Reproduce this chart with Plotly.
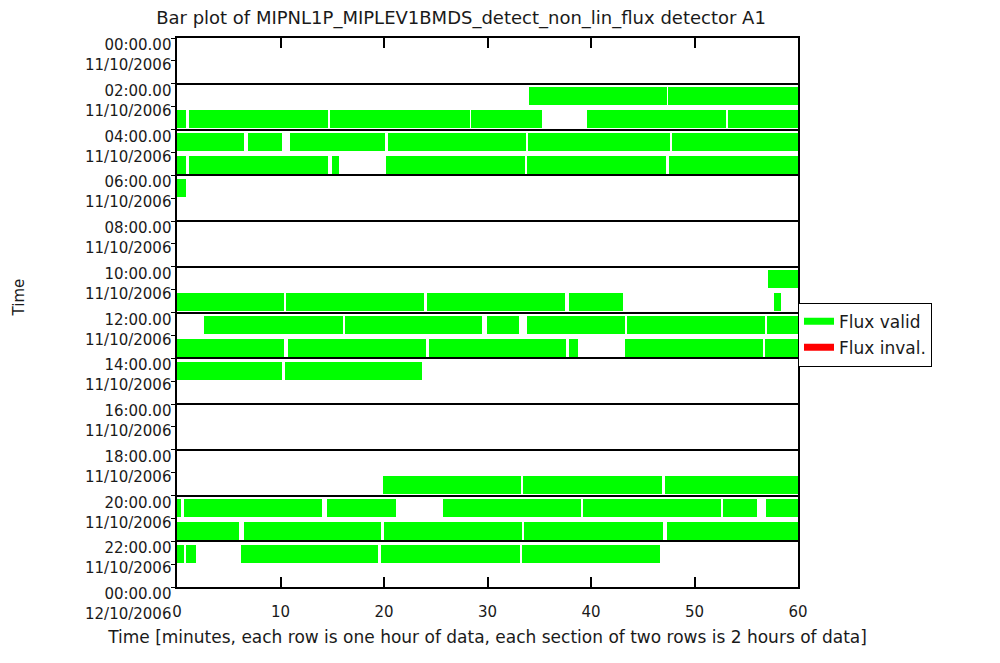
import plotly.graph_objects as go

# ---- data (minutes within each hour row) ----
seg_hour = [2, 2,
            3, 3, 3, 3, 3, 3,
            4, 4, 4, 4, 4, 4,
            5, 5, 5, 5, 5, 5,
            6,
            10,
            11, 11, 11, 11, 11,
            12, 12, 12, 12, 12, 12,
            13, 13, 13, 13, 13, 13,
            14, 14,
            19, 19, 19,
            20, 20, 20, 20, 20, 20, 20,
            21, 21, 21, 21, 21,
            22, 22, 22, 22, 22]
seg_start = [34.0, 47.45,
             0.0, 1.2, 14.75, 28.45, 39.6, 53.2,
             0.0, 6.85, 10.95, 20.35, 33.95, 47.8,
             0.0, 1.2, 15.0, 20.2, 33.8, 47.5,
             0.0,
             57.1,
             0.0, 10.55, 24.15, 37.85, 57.7,
             2.65, 16.2, 29.95, 33.8, 43.5, 57.05,
             0.0, 10.75, 24.35, 37.85, 43.3, 56.8,
             0.0, 10.4,
             19.95, 33.45, 47.15,
             0.0, 0.7, 14.5, 25.7, 39.25, 52.8, 56.9,
             0.0, 6.45, 20.0, 33.55, 47.3,
             0.0, 0.85, 6.15, 19.75, 33.35]
seg_end = [47.3, 60.0,
           0.9, 14.6, 28.3, 35.3, 53.0, 60.0,
           6.45, 10.15, 20.1, 33.75, 47.6, 60.0,
           0.9, 14.6, 15.7, 33.6, 47.2, 60.0,
           0.85,
           60.0,
           10.35, 23.9, 37.45, 43.1, 58.35,
           16.0, 29.5, 33.0, 43.3, 56.8, 60.0,
           10.35, 24.1, 37.6, 38.7, 56.6, 60.0,
           10.1, 23.7,
           33.2, 46.85, 60.0,
           0.4, 14.0, 21.2, 39.0, 52.55, 56.05, 60.0,
           6.0, 19.75, 33.3, 47.0, 60.0,
           0.65, 1.8, 19.4, 33.1, 46.7]

section_hours = list(range(0, 25, 2))
section_times = ["%02d:00.00" % (h % 24) for h in section_hours]
section_dates = ["11/10/2006"] * 12 + ["12/10/2006"]
x_ticks = [0, 10, 20, 30, 40, 50, 60]
legend_names = ["Flux valid", "Flux inval."]
legend_colors = ["#00ff00", "#ff0000"]

TITLE = "Bar plot of MIPNL1P_MIPLEV1BMDS_detect_non_lin_flux detector A1"
XTITLE = "Time [minutes, each row is one hour of data, each section of two rows is 2 hours of data]"
FONT = "DejaVu Sans"
TXT = "#1a1a1a"

fig = go.Figure()
fig.add_trace(go.Bar(
    orientation="h",
    y=[h + 0.54 for h in seg_hour],
    x=[e - s for s, e in zip(seg_start, seg_end)],
    base=seg_start,
    width=0.78,
    marker=dict(color="#00ff00", line=dict(width=0)),
    showlegend=False,
    hoverinfo="skip",
))
for name, col in zip(legend_names, legend_colors):
    fig.add_trace(go.Scatter(x=[None], y=[None], mode="lines", name=name,
                             legendgroup=name,
                             line=dict(color=col, width=7)))

annotations = []
for h, t, d in zip(section_hours, section_times, section_dates):
    annotations.append(dict(
        xref="paper", yref="y", x=0, y=h, xanchor="right", yanchor="top",
        xshift=-4, yshift=4, align="right", showarrow=False,
        text=t + "<br>" + d, font=dict(family=FONT, size=15, color=TXT)))
annotations.append(dict(
    xref="paper", yref="paper", x=-0.254, y=0.528, xanchor="center",
    yanchor="middle", textangle=-90,
    showarrow=False, text="Time", font=dict(family=FONT, size=15, color=TXT)))

fig.update_layout(
    width=1000, height=663,
    margin=dict(l=169, r=210, t=30, b=84),
    paper_bgcolor="white", plot_bgcolor="white",
    title=dict(text=TITLE, x=0.453, xanchor="center", y=0.985, yanchor="middle",
               pad=dict(t=0, b=0),
               font=dict(family=FONT, size=18, color=TXT)),
    barmode="overlay",
    bargap=0,
    annotations=annotations,
    legend=dict(x=1.0, y=0.518, xanchor="left", yanchor="top",
                bordercolor="black", borderwidth=1, bgcolor="white",
                font=dict(family=FONT, size=17, color=TXT),
                itemwidth=30, tracegroupgap=1),
    showlegend=True,
)
fig.update_xaxes(
    range=[0, 60], tickvals=x_ticks, ticks="inside", ticklen=10,
    tickcolor="black", tickwidth=1.5, showline=True, linecolor="black",
    linewidth=1.5, mirror="ticks", showgrid=False, zeroline=False,
    ticklabelstandoff=10,
    tickfont=dict(family=FONT, size=15, color=TXT),
    title=dict(text=XTITLE, font=dict(family=FONT, size=17, color=TXT), standoff=11),
)
fig.update_yaxes(
    range=[24, 0], tickvals=section_hours, showticklabels=False, ticks="",
    showgrid=True, gridcolor="black", gridwidth=1.5,
    minor=dict(ticks="outside", ticklen=4, tickcolor="black", dtick=1, tick0=0,
               showgrid=False),
    showline=True, linecolor="black", linewidth=1.5, mirror=True, zeroline=False,
)

fig.write_html("out.html")
